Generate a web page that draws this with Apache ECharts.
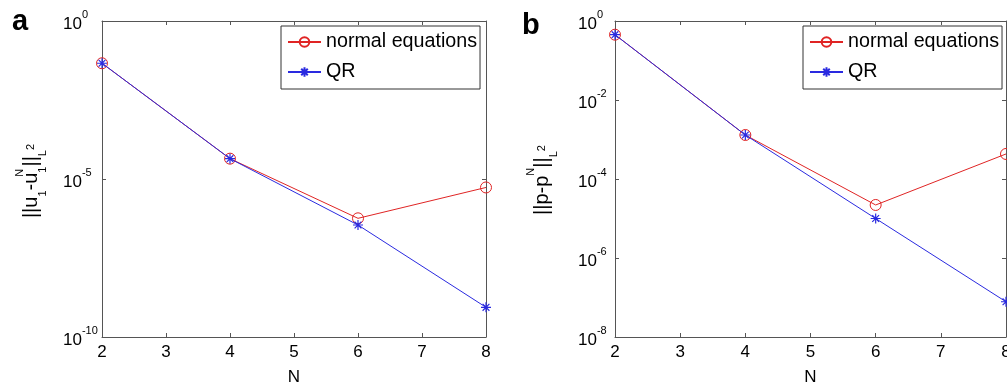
<!DOCTYPE html>
<html>
<head>
<meta charset="utf-8">
<script src="https://cdn.jsdelivr.net/npm/echarts@6/dist/echarts.min.js"></script>
<style>
html,body{margin:0;padding:0;background:#fff;}
#chart{width:1007px;height:389px;}
</style>
</head>
<body>
<div id="chart"></div>
<script>
// ---- data ----
const N = [2, 4, 6, 8];
const xTickRange = [2, 8];
const seriesNames = ['normal equations', 'QR'];
// panel a: ||u1 - u1^N||_L2
const aNormal = [0.046, 4.4e-5, 5.7e-7, 5.4e-6];
const aQR = [0.046, 4.4e-5, 3.5e-7, 8.7e-10];
// panel b: ||p - p^N||_L2
const bNormal = [0.45, 1.3e-3, 2.2e-5, 4.3e-4];
const bQR = [0.45, 1.3e-3, 1.0e-5, 7.8e-8];
// y-axis ranges and tick steps (ticks at 10^-10, 10^-5, 10^0 and 10^-8, 10^-6, ..., 10^0)
const aYRange = [1e-10, 1];
const bYRange = [1e-8, 1];
const aYStepBase = 1e5;
const bYStepBase = 100;
const panelLetters = ['a', 'b'];

// ---- styles ----
const FONT = '"Liberation Sans", Arial, Helvetica, sans-serif';
const RED = '#e02424';
const BLUE = '#2a2ae0';
const AXIS = '#555';
const INK = '#000';
const ASTER = 'path://M0 5L10 5M5 0L5 10M1.6 1.6L8.4 8.4M1.6 8.4L8.4 1.6';

function pairs(xs, ys) { return xs.map((x, i) => [x, ys[i]]); }

function expLabel(v) {
  const e = Math.round(Math.log10(v));
  return '{b|10}{s|' + String(e) + '}';
}

function xAxes(gridIndex) {
  const base = {
    type: 'value', gridIndex, min: xTickRange[0], max: xTickRange[1], interval: 1,
    splitLine: { show: false },
    axisLine: { show: true, lineStyle: { color: AXIS, width: 1 } },
    axisTick: { show: true, inside: true, length: 4, lineStyle: { color: AXIS } }
  };
  return [
    Object.assign({}, base, {
      position: 'bottom',
      name: 'N', nameLocation: 'middle', nameGap: 32,
      nameTextStyle: { fontSize: 17, color: INK, fontFamily: FONT },
      axisLabel: { fontSize: 17, color: INK, fontFamily: FONT, margin: 7, hideOverlap: false }
    }),
    Object.assign({}, base, { position: 'top', axisLabel: { show: false } })
  ];
}

function yAxes(gridIndex, range, logBase, margin) {
  const base = {
    type: 'log', logBase: logBase, gridIndex, min: range[0], max: range[1],
    splitLine: { show: false }, minorTick: { show: false },
    axisLine: { show: true, lineStyle: { color: AXIS, width: 1 } },
    axisTick: { show: true, inside: true, length: 4, lineStyle: { color: AXIS } }
  };
  return [
    Object.assign({}, base, {
      position: 'left',
      axisLabel: {
        formatter: expLabel, align: 'left', margin: margin,
        rich: {
          b: { fontSize: 17, color: INK, fontFamily: FONT, lineHeight: 24, verticalAlign: 'bottom' },
          s: { fontSize: 11, color: INK, fontFamily: FONT, lineHeight: 24, verticalAlign: 'top' }
        }
      }
    }),
    Object.assign({}, base, { position: 'right', axisLabel: { show: false } })
  ];
}

function mkSeries(name, data, xi, yi, isQR) {
  const s = {
    name, type: 'line', xAxisIndex: xi, yAxisIndex: yi,
    data, showSymbol: true, symbolSize: isQR ? 10 : 11,
    lineStyle: { color: isQR ? BLUE : RED, width: 1 },
    emphasis: { disabled: true },
    z: isQR ? 3 : 2, animation: false
  };
  if (isQR) {
    s.symbol = ASTER;
    s.itemStyle = { color: 'none', borderColor: BLUE, borderWidth: 1.2 };
  } else {
    s.symbol = 'circle';
    s.itemStyle = { color: 'none', borderColor: RED, borderWidth: 1 };
  }
  return s;
}

function mkLegend(left) {
  return {
    orient: 'vertical', left: left, top: 26,
    data: seriesNames,
    itemWidth: 33, itemHeight: 12, itemGap: 10,
    padding: [6, 3, 7, 6],
    borderColor: '#333', borderWidth: 1, backgroundColor: '#fff',
    textStyle: { fontSize: 19.7, color: INK, fontFamily: FONT },
    selectedMode: false
  };
}

const LH = 34;
const richLabel = {
  m: { fontSize: 20, fontFamily: FONT, fill: INK, lineHeight: LH, verticalAlign: 'middle' },
  s: { fontSize: 11, fontFamily: FONT, fill: INK, lineHeight: LH, verticalAlign: 'bottom' },
  n: { fontSize: 11, fontFamily: FONT, fill: INK, lineHeight: LH, verticalAlign: 'top', width: 0 },
  p: { fontSize: 11, fontFamily: FONT, fill: INK, lineHeight: LH, verticalAlign: 'top' },
  q: { fontSize: 11, fontFamily: FONT, fill: INK, lineHeight: LH, verticalAlign: 'middle' }
};

const chart = echarts.init(document.getElementById('chart'), null, { renderer: 'canvas' });
chart.setOption({
  backgroundColor: '#fff',
  animation: false,
  grid: [
    { left: 102, top: 21, width: 384, height: 316, outerBoundsMode: 'none', containLabel: false },
    { left: 615, top: 21, width: 391, height: 316, outerBoundsMode: 'none', containLabel: false }
  ],
  xAxis: [...xAxes(0), ...xAxes(1)],
  yAxis: [...yAxes(0, aYRange, aYStepBase, 39), ...yAxes(1, bYRange, bYStepBase, 37)],
  legend: [mkLegend(281), mkLegend(803)],
  series: [
    mkSeries(seriesNames[0], pairs(N, aNormal), 0, 0, false),
    mkSeries(seriesNames[1], pairs(N, aQR), 0, 0, true),
    mkSeries(seriesNames[0], pairs(N, bNormal), 2, 2, false),
    mkSeries(seriesNames[1], pairs(N, bQR), 2, 2, true)
  ],
  graphic: [
    { type: 'text', left: 12, top: 7, style: { text: panelLetters[0], font: 'bold 29px ' + FONT, fill: INK } },
    { type: 'text', left: 522, top: 11, style: { text: panelLetters[1], font: 'bold 29px ' + FONT, fill: INK } },
    { type: 'text', x: 31, y: 181, rotation: Math.PI / 2,
      style: { text: '{m|||u}{s|1}{m|-u}{n|N}{s|1}{m|||}{s|L}{q|2}', rich: richLabel, align: 'center', verticalAlign: 'middle' } },
    { type: 'text', x: 542, y: 180, rotation: Math.PI / 2,
      style: { text: '{m|||p-p}{p|N}{m|||}{s|L}{q|2}', rich: richLabel, align: 'center', verticalAlign: 'middle' } }
  ]
});
</script>
</body>
</html>
